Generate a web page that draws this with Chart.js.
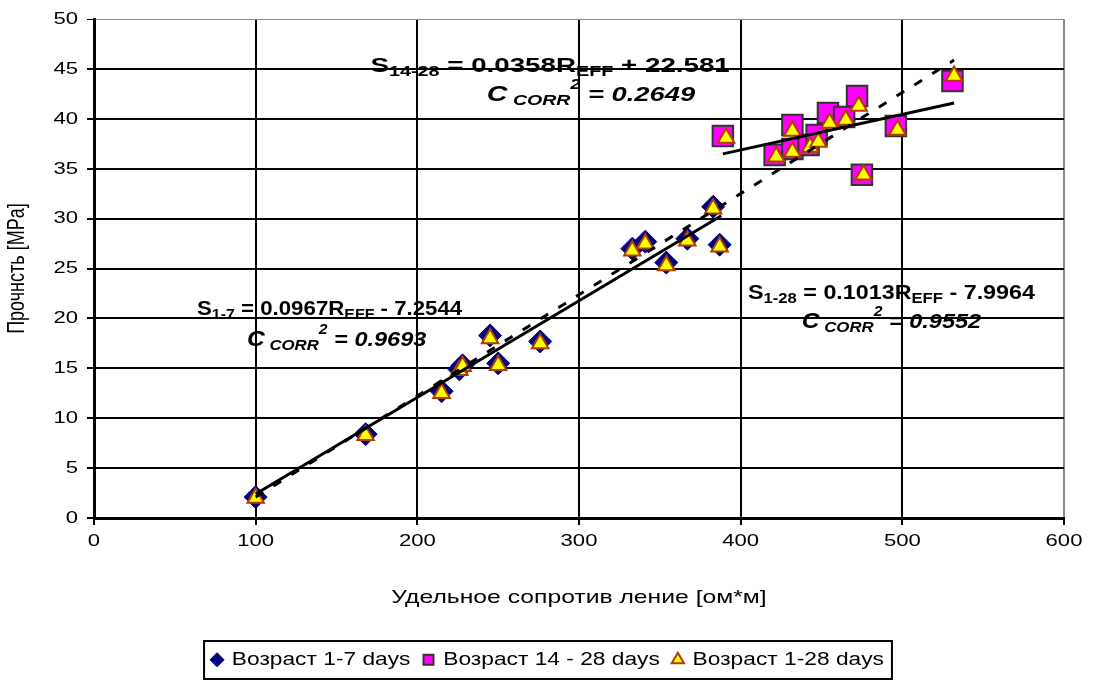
<!DOCTYPE html>
<html>
<head>
<meta charset="utf-8">
<script src="https://cdn.jsdelivr.net/npm/chart.js@4"></script>
<style>
  body { margin: 0; background: #fff; }
</style>
</head>
<body>
<canvas id="myChart" width="1095" height="681"></canvas>
<script>
// data
const r17 = [100, 168, 215, 226, 228, 245, 250, 276, 333, 341, 354, 367, 383, 387];
const s17 = [2.1, 8.4, 12.7, 14.9, 15.3, 18.3, 15.5, 17.7, 27.0, 27.7, 25.6, 28.0, 31.2, 27.4];
const r1428 = [389, 421, 432, 432, 442, 447, 454, 464, 472, 475, 496, 531];
const s1428 = [38.3, 36.4, 39.4, 37.0, 37.4, 38.4, 40.6, 40.2, 42.3, 34.4, 39.3, 43.8];
const r128 = [100, 168, 215, 226, 228, 245, 250, 276, 333, 341, 354, 367, 383, 387,
              391, 422, 432, 432, 443, 448, 455, 465, 473, 476, 497, 532];
const s128 = [2.0, 8.3, 12.5, 14.8, 15.2, 18.0, 15.3, 17.5, 26.8, 27.5, 25.3, 27.8, 31.0, 27.2,
              38.1, 36.2, 38.8, 36.7, 37.2, 37.7, 39.6, 39.9, 41.3, 34.4, 38.9, 44.3];
// trend line end points
const trend17 = [[100, 2.4], [388, 30.3]];
const trend128 = [[100, 2.1], [532, 45.9]];
const trend1428 = [[389, 36.5], [532, 41.6]];
const seriesNames = ['Возраст 1-7 days', 'Возраст 14 - 28 days', 'Возраст 1-28 days'];
const xTitle = 'Удельное сопротив ление [ом*м]';
const yTitle = 'Прочнсть [MPa]';

const pts = (xs, ys) => xs.map((x, i) => ({x: x, y: ys[i]}));
const line = p => p.map(q => ({x: q[0], y: q[1]}));

// the original picture has its text stretched sideways, so widen all canvas text
let stretchX = 1.3;
const proto = CanvasRenderingContext2D.prototype;
const origFill = proto.fillText;
const origMeasure = proto.measureText;
proto.fillText = function (t, x, y, maxW) {
  const m = this.getTransform();
  const p = m.transformPoint(new DOMPoint(x, y));
  this.save();
  this.setTransform(new DOMMatrix().translate(p.x, p.y).scale(stretchX, 1).translate(-p.x, -p.y).multiply(m));
  if (maxW === undefined) origFill.call(this, t, x, y);
  else origFill.call(this, t, x, y, maxW * stretchX);
  this.restore();
};
proto.measureText = function (t) {
  const r = origMeasure.call(this, t);
  return {
    width: r.width * stretchX,
    actualBoundingBoxAscent: r.actualBoundingBoxAscent,
    actualBoundingBoxDescent: r.actualBoundingBoxDescent,
    actualBoundingBoxLeft: r.actualBoundingBoxLeft * stretchX,
    actualBoundingBoxRight: r.actualBoundingBoxRight * stretchX
  };
};

Chart.defaults.font.family = 'Arial, "Liberation Sans", sans-serif';
Chart.defaults.font.size = 17;
Chart.defaults.color = '#000';

// equation labels: [text, size, style, baseline shift]; s = sideways stretch
const notes = [
  {x: 171, y: 44.7, s: 1.32, parts: [['S', 21, 'bold', 0], ['14-28', 15, 'bold', 4], [' = 0.0358R', 21, 'bold', 0], ['EFF', 15, 'bold', 4], [' + 22.581', 21, 'bold', 0]]},
  {x: 243, y: 41.8, s: 1.3, parts: [['C', 22, 'italic bold', 0], [' CORR', 15, 'italic bold', 4], ['2', 14, 'italic bold', -12], [' = 0.2649', 21, 'italic bold', 0]]},
  {x: 63.7, y: 20.3, s: 1.06, parts: [['S', 21, 'bold', 0], ['1-7', 15, 'bold', 4], [' = 0.0967R', 21, 'bold', 0], ['EFF', 15, 'bold', 4], [' - 7.2544', 21, 'bold', 0]]},
  {x: 94.6, y: 17.2, s: 1.12, parts: [['C', 22, 'italic bold', 0], [' CORR', 15, 'italic bold', 4], ['2', 14, 'italic bold', -12], [' = 0.9693', 21, 'italic bold', 0]]},
  {x: 404.5, y: 22.0, s: 1.11, parts: [['S', 21, 'bold', 0], ['1-28', 15, 'bold', 4], [' = 0.1013R', 21, 'bold', 0], ['EFF', 15, 'bold', 4], [' - 7.9964', 21, 'bold', 0]]},
  {x: 437.8, y: 19.0, s: 1.12, parts: [['C', 22, 'italic bold', 0], [' CORR', 15, 'italic bold', 4], ['2', 14, 'italic bold', -12], [' = 0.9552', 21, 'italic bold', 0]]}
];

const equations = {
  id: 'equations',
  afterLayout(chart) {
    // centre the legend on the whole canvas
    chart.legend.left = 0;
    chart.legend.right = chart.width;
  },
  afterDraw(chart) {
    const ctx = chart.ctx;
    const xs = chart.scales.x, ys = chart.scales.y;
    ctx.save();
    ctx.fillStyle = '#000';
    ctx.textAlign = 'left';
    ctx.textBaseline = 'alphabetic';
    notes.forEach(n => {
      stretchX = n.s;
      let px = xs.getPixelForValue(n.x);
      const py = ys.getPixelForValue(n.y);
      n.parts.forEach(p => {
        ctx.font = p[2] + ' ' + p[1] + 'px Arial, "Liberation Sans", sans-serif';
        ctx.fillText(p[0], px, py + p[3]);
        px += ctx.measureText(p[0]).width;
      });
    });
    stretchX = 1.3;
    // frame round the legend
    const hb = chart.legend.legendHitBoxes;
    if (hb && hb.length) {
      const l = Math.min(...hb.map(h => h.left)) - 7;
      const r = Math.max(...hb.map(h => h.left + h.width)) + 8;
      ctx.strokeStyle = '#000';
      ctx.lineWidth = 2;
      ctx.strokeRect(l, chart.legend.top + 2, r - l, 38);
    }
    ctx.restore();
  }
};

const data = {
  datasets: [
    {
      label: seriesNames[0],
      data: pts(r17, s17),
      pointStyle: 'rectRot',
      pointRadius: 11.5,
      backgroundColor: '#000080',
      borderColor: '#000080',
      borderWidth: 1,
      order: 2
    },
    {
      label: seriesNames[1],
      data: pts(r1428, s1428),
      pointStyle: 'rect',
      pointRadius: 14.5,
      backgroundColor: '#ff00ff',
      borderColor: '#333333',
      borderWidth: 2,
      order: 2
    },
    {
      label: seriesNames[2],
      data: pts(r128, s128),
      pointStyle: 'triangle',
      pointRadius: 9.5,
      backgroundColor: '#ffff00',
      borderColor: '#b33c00',
      borderWidth: 2,
      order: 1
    },
    {
      label: 'trend 1-7',
      trend: true,
      data: line(trend17),
      showLine: true,
      pointRadius: 0,
      borderColor: '#000',
      borderWidth: 3,
      order: 0
    },
    {
      label: 'trend 1-28',
      trend: true,
      data: line(trend128),
      showLine: true,
      pointRadius: 0,
      borderColor: '#000',
      borderWidth: 3,
      borderDash: [9, 12],
      order: 0
    },
    {
      label: 'trend 14-28',
      trend: true,
      data: line(trend1428),
      showLine: true,
      pointRadius: 0,
      borderColor: '#000',
      borderWidth: 3,
      order: 0
    }
  ]
};

const config = {
  type: 'scatter',
  data,
  options: {
    responsive: false,
    animation: false,
    layout: { padding: { top: 16, right: 31, left: 0, bottom: 2.5 } },
    plugins: {
      tooltip: { enabled: false },
      legend: {
        position: 'bottom',
        labels: {
          usePointStyle: true,
          boxWidth: 12,
          boxHeight: 10,
          padding: 12,
          font: { size: 17.5 },
          filter: (item, d) => !d.datasets[item.datasetIndex].trend,
          sort: (a, b) => a.datasetIndex - b.datasetIndex
        }
      }
    },
    scales: {
      x: {
        type: 'linear',
        min: 0,
        max: 600,
        afterFit: s => { s.height = 121; },
        ticks: { stepSize: 100, padding: 6, font: { size: 17 } },
        grid: {
          color: c => c.tick && c.tick.value === 600 ? '#888' : '#000',
          lineWidth: 2,
          tickLength: 7,
          tickColor: '#000'
        },
        border: { color: '#000', width: 3 },
        title: { display: true, text: xTitle, font: { size: 19 }, padding: { top: 0, bottom: 30 } }
      },
      y: {
        min: 0,
        max: 50,
        afterFit: s => { s.width = 94; },
        ticks: { stepSize: 5, padding: 9, font: { size: 17 } },
        grid: {
          color: c => c.tick && c.tick.value === 50 ? '#888' : '#000',
          lineWidth: c => c.tick && c.tick.value === 50 ? 1 : 2,
          tickLength: 7,
          tickColor: '#000'
        },
        border: { color: '#000', width: 3 },
        title: { display: true, text: yTitle, font: { size: 18 }, padding: { top: 7, bottom: 0 } }
      }
    }
  },
  plugins: [equations]
};

const myChart = new Chart(document.getElementById('myChart'), config);
</script>
</body>
</html>
